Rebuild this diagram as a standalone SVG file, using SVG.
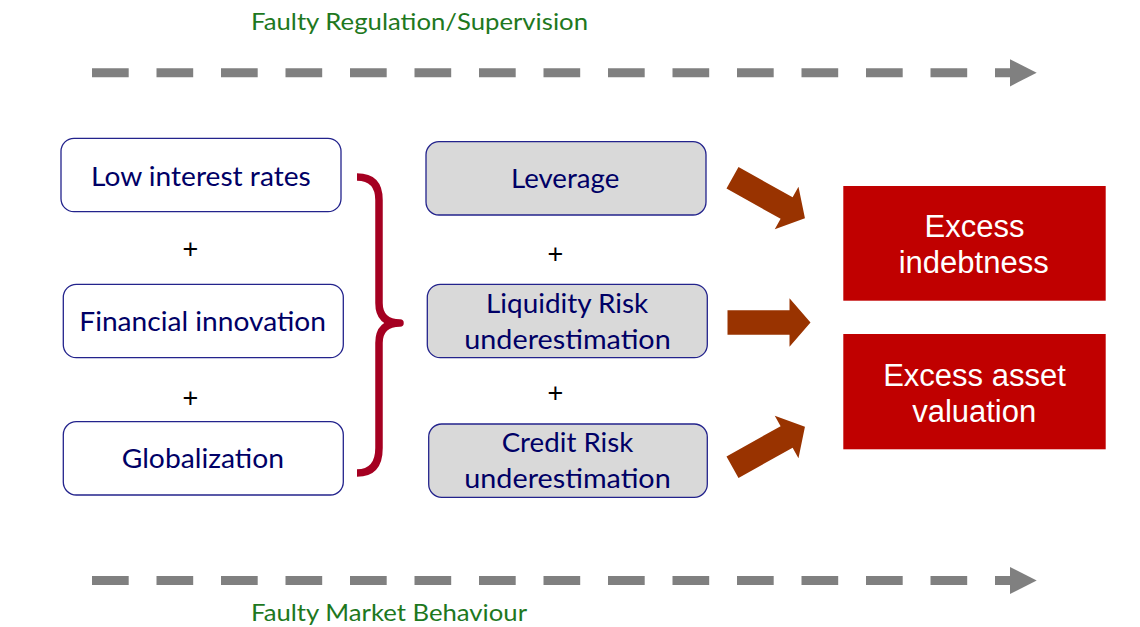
<svg xmlns="http://www.w3.org/2000/svg" width="1140" height="627" viewBox="0 0 1140 627">
  <defs>
    <style>
      .bg { fill: #ffffff; }
      .lbl { font-family: Lato, "Liberation Sans", sans-serif; font-size: 24px; fill: #1E781E; }
      .dash { stroke: #808080; stroke-width: 9; stroke-dasharray: 36.7 27.8; fill: none; }
      .head { fill: #808080; }
      .wbox { fill: #ffffff; stroke: #23238C; stroke-width: 1.3; }
      .gbox { fill: #D9D9D9; stroke: #23238C; stroke-width: 1.3; }
      .rbox { fill: #C00000; }
      .t { font-family: Lato, "Liberation Sans", sans-serif; font-size: 26.5px; fill: #000066; }
      .rt { font-family: "Liberation Sans", Arial, sans-serif; font-size: 31px; fill: #ffffff; text-anchor: middle; }
      .plus { font-family: "Liberation Sans", Arial, sans-serif; font-size: 27px; fill: #000000; text-anchor: middle; }
      .brace { fill: none; stroke: #A50021; stroke-width: 7.5; stroke-linecap: butt; stroke-linejoin: round; }
      .arr { fill: #993300; }
    </style>
    <polygon id="fat" points="0,-12.3 62,-12.3 62,-24.3 83,0 62,24.3 62,12.3 0,12.3"/>
  </defs>

  <rect class="bg" x="0" y="0" width="1140" height="627"/>

  <!-- labels -->
  <text class="lbl" x="251" y="30" textLength="337" lengthAdjust="spacingAndGlyphs">Faulty Regulation/Supervision</text>
  <text class="lbl" x="251" y="621" textLength="276" lengthAdjust="spacingAndGlyphs">Faulty Market Behaviour</text>

  <!-- connectors -->
  <g id="connectors">
    <line class="dash" x1="92" y1="72.8" x2="1011" y2="72.8"/>
    <polygon class="head" points="1010,59.2 1036.7,72.8 1010,86.4"/>
    <line class="dash" x1="92" y1="580.5" x2="1011" y2="580.5"/>
    <polygon class="head" points="1010,567 1036.7,580.5 1010,594"/>
    <path class="brace" d="M357,177 Q379,177 379,200 L379,303 Q379,323 400,323 Q379,323 379,343 L379,448 Q379,473 357,473"/>
    <use href="#fat" class="arr" transform="translate(732.5,177.8) rotate(29.2)"/>
    <use href="#fat" class="arr" transform="translate(727.5,322.5)"/>
    <use href="#fat" class="arr" transform="translate(732.5,467.2) rotate(-29.2)"/>
  </g>

  <g id="low-interest-rates">
    <rect class="wbox" x="61" y="138.3" width="280" height="73.4" rx="13"/>
    <text class="t" x="91" y="185.7" textLength="219.7" lengthAdjust="spacingAndGlyphs">Low interest rates</text>
  </g>
  <text class="plus" x="190.5" y="258">+</text>
  <g id="financial-innovation">
    <rect class="wbox" x="63.3" y="284.3" width="280" height="73.4" rx="13"/>
    <text class="t" x="79.3" y="330.7" textLength="246.7" lengthAdjust="spacingAndGlyphs">Financial innovation</text>
  </g>
  <text class="plus" x="190.5" y="407">+</text>
  <g id="globalization">
    <rect class="wbox" x="63.3" y="421.7" width="280" height="73.3" rx="13"/>
    <text class="t" x="121.7" y="468.3" textLength="162.3" lengthAdjust="spacingAndGlyphs">Globalization</text>
  </g>

  <g id="leverage">
    <rect class="gbox" x="426" y="141.7" width="280" height="73.3" rx="13"/>
    <text class="t" x="511" y="188.3" textLength="108.3" lengthAdjust="spacingAndGlyphs">Leverage</text>
  </g>
  <text class="plus" x="555.3" y="263">+</text>
  <g id="liquidity-risk">
    <rect class="gbox" x="427.3" y="284.3" width="280" height="73.4" rx="13"/>
    <text class="t" x="486" y="312.7" textLength="162.3" lengthAdjust="spacingAndGlyphs">Liquidity Risk</text>
    <text class="t" x="464.3" y="349.3" textLength="206.4" lengthAdjust="spacingAndGlyphs">underestimation</text>
  </g>
  <text class="plus" x="555.3" y="401.5">+</text>
  <g id="credit-risk">
    <rect class="gbox" x="428.7" y="424" width="278.6" height="73.3" rx="13"/>
    <text class="t" x="501.7" y="451.7" textLength="131.6" lengthAdjust="spacingAndGlyphs">Credit Risk</text>
    <text class="t" x="464.3" y="488.3" textLength="206.4" lengthAdjust="spacingAndGlyphs">underestimation</text>
  </g>

  <g id="excess-indebtness">
    <rect class="rbox" x="843.3" y="186" width="262.4" height="114.7"/>
    <text class="rt" x="974.5" y="237.3">Excess</text>
    <text class="rt" x="973.7" y="272.7">indebtness</text>
  </g>
  <g id="excess-asset-valuation">
    <rect class="rbox" x="843.3" y="334" width="262.4" height="115.3"/>
    <text class="rt" x="974.5" y="385.7">Excess asset</text>
    <text class="rt" x="974.2" y="421.7">valuation</text>
  </g>
</svg>
